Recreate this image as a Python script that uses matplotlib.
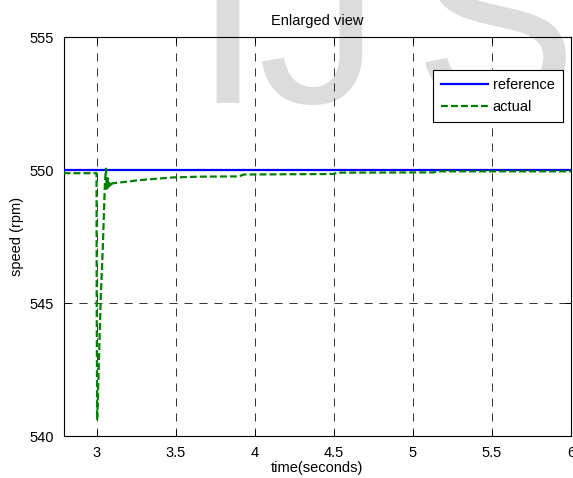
import matplotlib
matplotlib.use("Agg")
import matplotlib.pyplot as plt

plt.rcParams['font.family'] = ['Liberation Sans', 'DejaVu Sans']
plt.rcParams['lines.scale_dashes'] = False

# ---- data ----
time_ref = [2.79, 6.0]
speed_ref = [550.0, 550.0]

time_act = [2.79, 2.999, 3.000, 3.003, 3.025, 3.038, 3.052, 3.058,
            3.064, 3.068, 3.072, 3.076, 3.080, 3.085, 3.090, 3.100,
            3.160, 3.270, 3.480, 3.650, 3.900, 3.930, 4.500, 4.520,
            5.130, 5.160, 6.000]
speed_act = [549.88, 549.88, 545.0, 540.6, 545.1, 547.0, 549.5, 550.05,
             549.3, 549.7, 549.35, 549.6, 549.4, 549.55, 549.45, 549.5,
             549.54, 549.62, 549.72, 549.75, 549.76, 549.83, 549.85, 549.9,
             549.91, 549.95, 549.95]

x_ticks = [3, 3.5, 4, 4.5, 5, 5.5, 6]
x_tick_labels = ['3', '3.5', '4', '4.5', '5', '5.5', '6']
y_ticks = [540, 545, 550, 555]
y_tick_labels = ['540', '545', '550', '555']

W, H = 573, 478
fig = plt.figure(figsize=(W / 100, H / 100), dpi=100)
fig.patch.set_facecolor('white')

# watermark (behind the axes)
wm_color = '#dcdcdc'
for ch, cx in [('I', 227), ('J', 318), ('S', 495)]:
    fig.text(cx / W, 1 - 103 / H, ch, fontsize=176, color=wm_color,
             ha='center', va='baseline', zorder=-5,
             family=['Liberation Sans'])

left, right, top, bottom = 63.5, 571.0, 37.0, 436.0
ax = fig.add_axes([left / W, 1 - bottom / H, (right - left) / W, (bottom - top) / H])
ax.set_facecolor('none')

ax.plot(time_ref, speed_ref, color='#0000ff', lw=1.6, label='reference', zorder=3)
ax.plot(time_act, speed_act, color='#008000', lw=1.6, linestyle=(0, (5.0, 2.2)),
        label='actual', zorder=4)

ax.set_xlim(2.79, 6.0)
ax.set_ylim(540, 555)
ax.set_xticks(x_ticks)
ax.set_xticklabels(x_tick_labels)
ax.set_yticks(y_ticks)
ax.set_yticklabels(y_tick_labels)

ax.grid(True, color='#222222', lw=0.65, linestyle=(0, (5.8, 5.0)))
ax.set_axisbelow(True)
ax.tick_params(direction='in', length=4, width=0.75, top=True, right=True,
               labelsize=10.5, pad=7, colors='black')
for s in ax.spines.values():
    s.set_linewidth(0.8)
    s.set_color('black')

ax.set_title('Enlarged view', fontsize=10.5, pad=9)
ax.set_xlabel('time(seconds)', fontsize=10.5, labelpad=1)
ax.set_ylabel('speed (rpm)', fontsize=10.5, labelpad=4)

leg = ax.legend(loc='upper right', bbox_to_anchor=(562.5 / W, 1 - 70 / H),
                bbox_transform=fig.transFigure, borderaxespad=0,
                fancybox=False, framealpha=1, edgecolor='black',
                fontsize=10.5, handlelength=3.2, handletextpad=0.35,
                borderpad=0.55, labelspacing=0.55)
leg.get_frame().set_linewidth(0.8)

fig.savefig('out.png', dpi=100, facecolor='white')
